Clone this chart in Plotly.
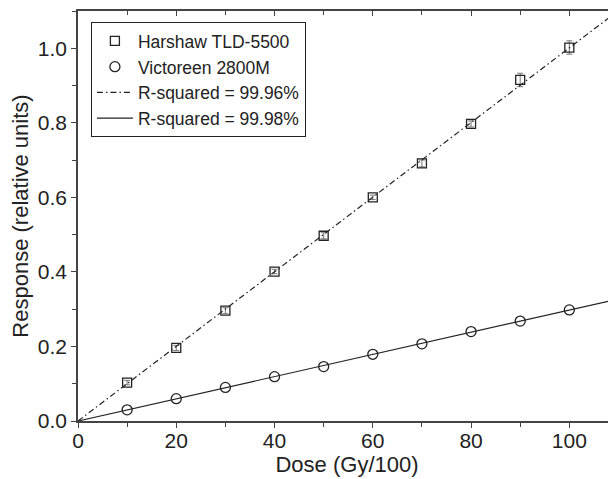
import numpy as np
import plotly.graph_objects as go

dose = [10, 20, 30, 40, 50, 60, 70, 80, 90, 100]
harshaw = [0.103, 0.196, 0.296, 0.401, 0.497, 0.600, 0.691, 0.797, 0.915, 1.002]
harshaw_err = [0.006, 0.007, 0.008, 0.006, 0.008, 0.006, 0.009, 0.008, 0.018, 0.018]
victoreen = [0.030, 0.060, 0.090, 0.119, 0.146, 0.179, 0.207, 0.240, 0.268, 0.298]

names = ["Harshaw TLD-5500", "Victoreen 2800M", "R-squared = 99.96%", "R-squared = 99.98%"]

x_arr = np.array(dose, dtype=float)
slope_h = float(np.sum(x_arr * np.array(harshaw)) / np.sum(x_arr ** 2))
slope_v = float(np.sum(x_arr * np.array(victoreen)) / np.sum(x_arr ** 2))
fit_x = [0, 115]

ink = "#222222"
axc = "#444444"
font = "Liberation Sans, Arial, sans-serif"

fig = go.Figure()
fig.add_trace(go.Scatter(
    x=dose, y=harshaw, mode="markers", name=names[0],
    marker=dict(symbol="square-open", size=9, color=ink, line=dict(width=1.3, color=ink)),
    error_y=dict(type="data", array=harshaw_err, color="#777777", thickness=1, width=3),
))
fig.add_trace(go.Scatter(
    x=dose, y=victoreen, mode="markers", name=names[1],
    marker=dict(symbol="circle-open", size=10, color=ink, line=dict(width=1.3, color=ink)),
))
fig.add_trace(go.Scatter(
    x=fit_x, y=[slope_h * v for v in fit_x], mode="lines", name=names[2],
    line=dict(color=ink, width=1.2, dash="6px,3px,1.5px,3px"),
))
fig.add_trace(go.Scatter(
    x=fit_x, y=[slope_v * v for v in fit_x], mode="lines", name=names[3],
    line=dict(color=ink, width=1.2),
))
# helper trace to anchor mirror axes
fig.add_trace(go.Scatter(x=[None], y=[None], xaxis="x2", yaxis="y2", showlegend=False, hoverinfo="skip"))

xr = [0, 109.5]
yr = [0, 1.1]

# page body has an 8px default margin: size and margins compensate for it
fig.update_layout(
    width=608, height=471,
    margin=dict(l=70, r=0, t=3, b=58),
    paper_bgcolor="white", plot_bgcolor="white",
    font=dict(family=font, color=ink),
    showlegend=True,
    legend=dict(
        x=0.024, y=0.973, xanchor="left", yanchor="top",
        bgcolor="white", bordercolor=ink, borderwidth=1,
        font=dict(size=17.5, family=font, color=ink),
        itemwidth=36, tracegroupgap=0,
    ),
    xaxis=dict(
        range=xr, showgrid=False, zeroline=False,
        showline=True, linecolor=axc, linewidth=1.5,
        ticks="outside", ticklen=5, tickwidth=1, tickcolor=axc,
        tickmode="linear", tick0=0, dtick=20, ticklabelstandoff=-5,
        tickfont=dict(size=21, family=font, color=ink),
        minor=dict(ticks="outside", ticklen=4, tickcolor=axc, dtick=10, tick0=0),
        title=dict(text="Dose (Gy/100)", font=dict(size=22, family=font, color=ink), standoff=6),
    ),
    yaxis=dict(
        range=yr, showgrid=False, zeroline=False,
        showline=True, linecolor=axc, linewidth=1.5,
        ticks="outside", ticklen=5, tickwidth=1, tickcolor=axc,
        tickmode="linear", tick0=0, dtick=0.2, tickformat=".1f",
        tickfont=dict(size=21, family=font, color=ink),
        minor=dict(ticks="outside", ticklen=4, tickcolor=axc, dtick=0.1, tick0=0),
        title=dict(text="Response (relative units)", font=dict(size=22, family=font, color=ink), standoff=8),
    ),
    xaxis2=dict(
        overlaying="x", side="top", range=xr, showgrid=False, zeroline=False,
        showline=True, linecolor=axc, linewidth=1.5,
        ticks="inside", ticklen=5, tickwidth=1, tickcolor=axc,
        tickmode="linear", tick0=0, dtick=20, showticklabels=False,
        minor=dict(ticks="inside", ticklen=4, tickcolor=axc, dtick=10, tick0=0),
    ),
    yaxis2=dict(
        overlaying="y", side="right", range=yr, showgrid=False, zeroline=False,
        showline=False,
        ticks="inside", ticklen=5, tickwidth=1, tickcolor=axc,
        tickmode="linear", tick0=0, dtick=0.2, showticklabels=False,
        minor=dict(ticks="inside", ticklen=4, tickcolor=axc, dtick=0.1, tick0=0),
    ),
)

fig.write_html("out.html")
